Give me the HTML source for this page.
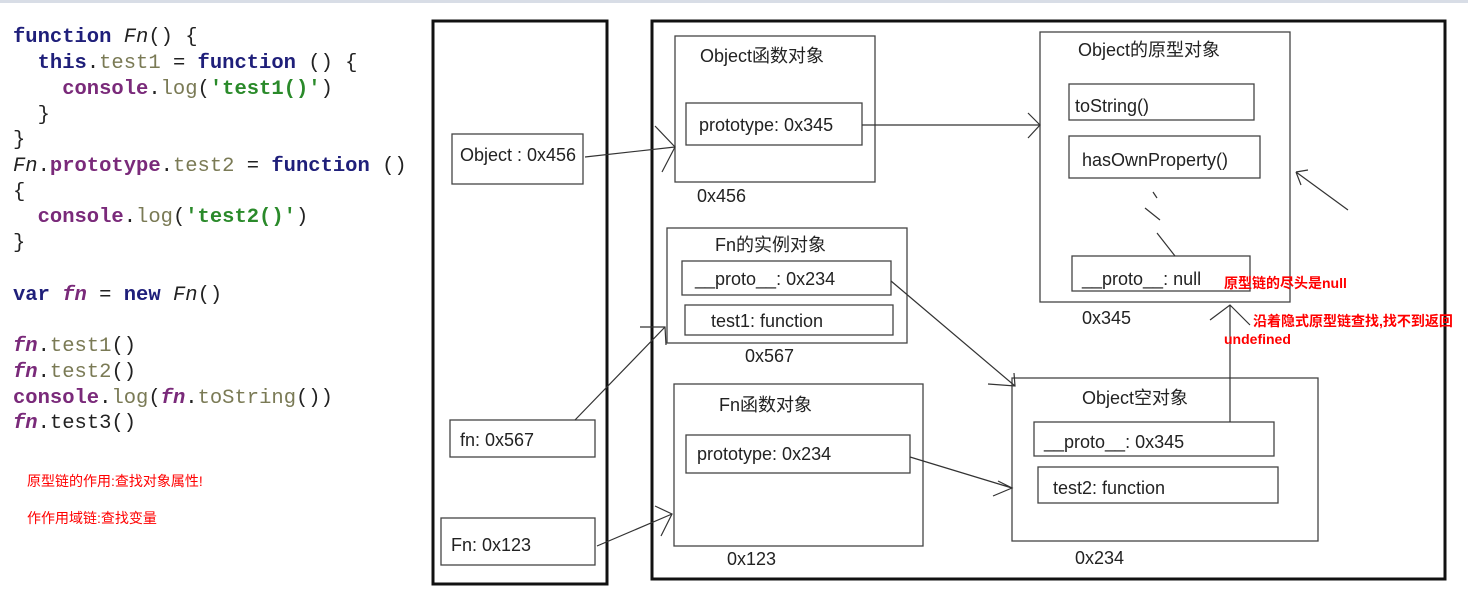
<!DOCTYPE html>
<html><head><meta charset="utf-8"><style>
body{margin:0;background:#fff;}
svg{display:block}
.c{font-family:"Liberation Mono",monospace;font-size:20.5px;}
.k{fill:#1f1f7a;font-weight:bold}
.p{fill:#7a7a55}
.o{fill:#7a2a7a;font-weight:bold}
.s{fill:#2a8a2a;font-weight:bold}
.b{fill:#222}
.i{font-style:italic}
.t{font-family:"Liberation Sans","Noto Sans CJK SC",sans-serif;font-size:18px;fill:#222}
.r{font-family:"Liberation Sans","Noto Sans CJK SC",sans-serif;font-size:14px;fill:#f00}
.rb{font-family:"Liberation Sans","Noto Sans CJK SC",sans-serif;font-size:14px;fill:#f00;font-weight:bold}
</style></head><body>
<svg width="1468" height="600" xmlns="http://www.w3.org/2000/svg">
<rect x="0" y="0" width="1468" height="3" fill="#d8dde6"/>
<g class="c" xml:space="preserve">
<text x="13" y="42"><tspan class="k">function</tspan> <tspan class="b i">Fn</tspan><tspan class="b">() {</tspan></text>
<text x="37.6" y="68"><tspan class="k">this</tspan><tspan class="b">.</tspan><tspan class="p">test1</tspan><tspan class="b"> = </tspan><tspan class="k">function</tspan><tspan class="b"> () {</tspan></text>
<text x="62.2" y="94"><tspan class="o">console</tspan><tspan class="b">.</tspan><tspan class="p">log</tspan><tspan class="b">(</tspan><tspan class="s">'test1()'</tspan><tspan class="b">)</tspan></text>
<text x="37.6" y="120" class="b">}</text>
<text x="13" y="145" class="b">}</text>
<text x="13" y="171"><tspan class="b i">Fn</tspan><tspan class="b">.</tspan><tspan class="o">prototype</tspan><tspan class="b">.</tspan><tspan class="p">test2</tspan><tspan class="b"> = </tspan><tspan class="k">function</tspan><tspan class="b"> ()</tspan></text>
<text x="13" y="197" class="b">{</text>
<text x="37.6" y="222"><tspan class="o">console</tspan><tspan class="b">.</tspan><tspan class="p">log</tspan><tspan class="b">(</tspan><tspan class="s">'test2()'</tspan><tspan class="b">)</tspan></text>
<text x="13" y="248" class="b">}</text>
<text x="13" y="300"><tspan class="k">var</tspan> <tspan class="o i">fn</tspan><tspan class="b"> = </tspan><tspan class="k">new</tspan> <tspan class="b i">Fn</tspan><tspan class="b">()</tspan></text>
<text x="13" y="351"><tspan class="o i">fn</tspan><tspan class="b">.</tspan><tspan class="p">test1</tspan><tspan class="b">()</tspan></text>
<text x="13" y="377"><tspan class="o i">fn</tspan><tspan class="b">.</tspan><tspan class="p">test2</tspan><tspan class="b">()</tspan></text>
<text x="13" y="403"><tspan class="o">console</tspan><tspan class="b">.</tspan><tspan class="p">log</tspan><tspan class="b">(</tspan><tspan class="o i">fn</tspan><tspan class="b">.</tspan><tspan class="p">toString</tspan><tspan class="b">())</tspan></text>
<text x="13" y="428"><tspan class="o i">fn</tspan><tspan class="b">.test3()</tspan></text>
</g>
<text x="27" y="486" class="r">原型链的作用:查找对象属性!</text>
<text x="27" y="523" class="r">作作用域链:查找变量</text>

<g fill="none" stroke="#111">
<rect x="433" y="21" width="174" height="563" stroke-width="3"/>
<rect x="652" y="21" width="793" height="558" stroke-width="3"/>
<g stroke="#444" stroke-width="1.3">
<rect x="452" y="134" width="131" height="50"/>
<rect x="450" y="420" width="145" height="37"/>
<rect x="441" y="518" width="154" height="47"/>
<rect x="675" y="36" width="200" height="146"/>
<rect x="686" y="103" width="176" height="42"/>
<rect x="667" y="228" width="240" height="115"/>
<rect x="682" y="261" width="209" height="34"/>
<rect x="685" y="305" width="208" height="30"/>
<rect x="674" y="384" width="249" height="162"/>
<rect x="686" y="435" width="224" height="38"/>
<rect x="1040" y="32" width="250" height="270"/>
<rect x="1069" y="84" width="185" height="36"/>
<rect x="1069" y="136" width="191" height="42"/>
<rect x="1072" y="256" width="178" height="35"/>
<rect x="1012" y="378" width="306" height="163"/>
<rect x="1034" y="422" width="240" height="34"/>
<rect x="1038" y="467" width="240" height="36"/>
</g>
<g stroke="#333" stroke-width="1.2">
<path d="M585 157 L675 147 M655 126 L675 147 L662 172"/>
<path d="M862 125 L1040 125 M1028 113 L1040 125 L1028 138"/>
<path d="M575 420 L665 327 M640 327 L665 327 L666 345"/>
<path d="M597 546 L672 514 M655 506 L672 514 L661 536"/>
<path d="M891 281 L1015 386 M988 384 L1015 386 L1014 373"/>
<path d="M910 457 L1012 488 M998 481 L1012 488 L993 496"/>
<path d="M1230 422 L1230 305 M1210 320 L1230 305 L1250 325"/>
<path d="M1348 210 L1296 172 M1296 172 L1308 170 M1296 172 L1301 185"/>
<path d="M1153 192 L1157 198 M1145 208 L1160 220 M1157 233 L1175 256"/>
</g>
</g>
<g class="t">
<text x="460" y="161">Object : 0x456</text>
<text x="460" y="446">fn: 0x567</text>
<text x="451" y="551">Fn: 0x123</text>
<text x="700" y="62">Object函数对象</text>
<text x="699" y="131">prototype: 0x345</text>
<text x="697" y="202">0x456</text>
<text x="715" y="251">Fn的实例对象</text>
<text x="695" y="285">__proto__: 0x234</text>
<text x="711" y="327">test1: function</text>
<text x="745" y="362">0x567</text>
<text x="719" y="411">Fn函数对象</text>
<text x="697" y="460">prototype: 0x234</text>
<text x="727" y="565">0x123</text>
<text x="1078" y="56">Object的原型对象</text>
<text x="1075" y="112">toString()</text>
<text x="1082" y="166">hasOwnProperty()</text>
<text x="1082" y="285">__proto__: null</text>
<text x="1082" y="324">0x345</text>
<text x="1082" y="404">Object空对象</text>
<text x="1044" y="448">__proto__: 0x345</text>
<text x="1053" y="494">test2: function</text>
<text x="1075" y="564">0x234</text>
</g>
<text x="1224" y="288" class="rb">原型链的尽头是null</text>
<text x="1253" y="326" class="rb">沿着隐式原型链查找,找不到返回</text>
<text x="1224" y="344" class="rb">undefined</text>
</svg>
</body></html>
